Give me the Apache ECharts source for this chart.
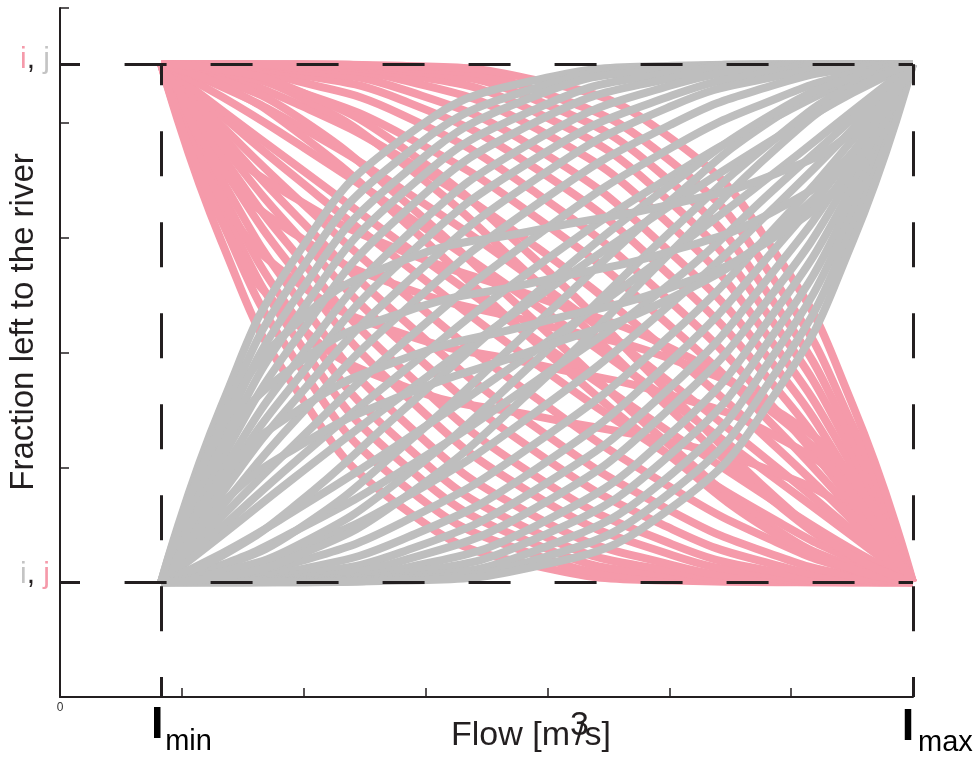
<!DOCTYPE html>
<html><head><meta charset="utf-8">
<script src="https://cdn.jsdelivr.net/npm/echarts@6/dist/echarts.min.js"></script>
<style>html,body{margin:0;padding:0;background:#fff}#c{width:977px;height:760px}</style>
</head><body><div id="c"></div>
<script>
// ---- values ----
const FLOW_MIN = 0.83;          // I_min on the flow axis
const FLOW_MAX = 7;             // I_max on the flow axis
const LEVEL_LOW = 1;            // lower level (i, j)
const LEVEL_HIGH = 5.51;        // upper level (i, j)
const BOX_LEFT = 0.53;          // where the horizontal dashed lines start
const curveSteps = [0, 0.08, 0.18, 0.32, 0.5, 0.68, 0.82, 0.92, 1];

// grey: from (I_min, lower level) to (I_max, upper level)
const greyCurves = [
  [0, .34, .63, .855, .97, .997, 1, 1, 1],
  [0, .31, .59, .82, .955, .994, 1, 1, 1],
  [0, .285, .55, .785, .94, .99, .999, 1, 1],
  [0, .26, .51, .75, .915, .983, .998, 1, 1],
  [0, .235, .47, .71, .89, .974, .996, 1, 1],
  [0, .21, .425, .66, .855, .96, .992, .999, 1],
  [0, .19, .39, .62, .82, .94, .986, .998, 1],
  [0, .17, .355, .57, .78, .92, .977, .996, 1],
  [0, .145, .315, .52, .73, .885, .962, .992, 1],
  [0, .125, .27, .46, .67, .84, .935, .982, 1],
  [0, .105, .235, .405, .61, .785, .90, .967, 1],
  [0, .09, .205, .36, .55, .73, .86, .945, 1],
  [0, .055, .14, .27, .45, .64, .795, .91, 1],
  [0, .033, .10, .215, .39, .58, .765, .895, 1],
  [0, .018, .064, .16, .33, .54, .73, .875, 1],
  [0, .008, .038, .115, .27, .48, .69, .855, 1],
  [0, .004, .023, .082, .22, .43, .65, .83, 1],
  [0, .002, .014, .058, .18, .38, .61, .81, 1],
  [0, .001, .008, .041, .145, .34, .57, .79, 1],
  [0, 0, .004, .026, .11, .29, .53, .765, 1],
  [0, 0, .002, .017, .085, .25, .49, .74, 1],
  [0, 0, .001, .01, .062, .21, .45, .715, 1],
  [0, 0, 0, .006, .044, .176, .41, .687, 1],
  [0, 0, 0, .003, .031, .145, .371, .659, 1],
  [0, .03, .10, .26, .50, .74, .90, .97, 1],
  [0, .05, .15, .33, .56, .77, .91, .975, 1],
  [0, .02, .07, .20, .43, .68, .86, .96, 1],
  [0, .01, .05, .16, .38, .64, .84, .95, 1],
  [0, .20, .33, .43, .50, .57, .67, .80, 1],
  [0, .26, .42, .52, .58, .64, .72, .83, 1],
  [0, .15, .26, .36, .45, .55, .68, .83, 1],
  [0, .30, .50, .62, .68, .73, .79, .87, 1]
];

// pink: from (I_min, upper level) to (I_max, lower level)
const pinkCurves = [
  [1, .659, .371, .145, .031, .003, 0, 0, 0],
  [1, .699, .426, .19, .051, .007, .001, 0, 0],
  [1, .728, .47, .231, .072, .013, .002, 0, 0],
  [1, .753, .509, .27, .095, .021, .003, 0, 0],
  [1, .779, .551, .314, .125, .033, .006, .001, 0],
  [1, .805, .597, .367, .165, .052, .012, .001, 0],
  [1, .825, .633, .412, .203, .073, .019, .003, 0],
  [1, .846, .672, .462, .25, .102, .032, .006, 0],
  [1, .864, .707, .509, .297, .136, .05, .012, 0],
  [1, .882, .742, .561, .354, .181, .076, .023, 0],
  [1, .901, .78, .618, .42, .241, .117, .043, 0],
  [1, .912, .804, .654, .467, .286, .152, .062, 0],
  [1, .938, .848, .714, .533, .346, .196, .088, 0],
  [1, .957, .883, .759, .58, .382, .22, .099, 0],
  [1, .977, .924, .819, .646, .439, .258, .118, 0],
  [1, .988, .949, .865, .703, .491, .294, .136, 0],
  [1, .994, .968, .903, .75, .538, .329, .154, 0],
  [1, .997, .981, .931, .797, .588, .371, .175, 0],
  [1, .999, .989, .952, .836, .633, .41, .195, 0],
  [1, 1, .994, .97, .875, .686, .449, .221, 0],
  [1, 1, .997, .981, .906, .73, .49, .247, 0],
  [1, 1, .999, .988, .93, .77, .53, .272, 0],
  [1, 1, 1, .993, .949, .81, .574, .301, 0],
  [1, 1, 1, .997, .969, .855, .629, .341, 0],
  [1, .97, .90, .74, .50, .26, .10, .03, 0],
  [1, .96, .87, .70, .46, .24, .09, .025, 0],
  [1, .985, .94, .81, .58, .33, .15, .05, 0],
  [1, .99, .95, .84, .62, .36, .16, .05, 0],
  [1, .80, .67, .57, .50, .43, .33, .20, 0],
  [1, .74, .58, .48, .42, .36, .28, .17, 0],
  [1, .85, .74, .64, .55, .45, .32, .17, 0],
  [1, .70, .50, .38, .32, .27, .21, .13, 0]
];

// ---- styles ----
const PINK = '#F59AAA';
const GREY = '#BEBEBE';
const GREY_TXT = '#C4C4C4';
const INK = '#231F20';
const FONT = '"Liberation Sans", Arial, sans-serif';

function toSeries(curves, color, z) {
  return curves.map(c => ({
    type: 'line',
    data: curveSteps.map((t, i) => [FLOW_MIN + t * (FLOW_MAX - FLOW_MIN),
                                    LEVEL_LOW + c[i] * (LEVEL_HIGH - LEVEL_LOW)]),
    smooth: 0.5,
    showSymbol: false,
    symbol: 'none',
    silent: true,
    z: z,
    lineStyle: { color: color, width: 8, cap: 'butt', join: 'round' }
  }));
}

const dashH = { color: INK, width: 3, type: [42, 44], cap: 'butt' };
const dashV = { color: INK, width: 3, type: [45, 46], dashOffset: 24, cap: 'butt' };

const lvlRich = {
  p: { color: PINK, fontSize: 30, fontFamily: FONT },
  k: { color: INK, fontSize: 30, fontFamily: FONT },
  g: { color: GREY_TXT, fontSize: 30, fontFamily: FONT }
};

const overlay = {
  type: 'line',
  data: [],
  z: 10,
  clip: false,
  silent: true,
  markLine: {
    silent: true,
    symbol: ['none', 'none'],
    label: { show: false },
    animation: false,
    data: [
      [{ coord: [BOX_LEFT, LEVEL_HIGH], lineStyle: dashH }, { coord: [FLOW_MAX, LEVEL_HIGH] }],
      [{ coord: [BOX_LEFT, LEVEL_LOW], lineStyle: dashH }, { coord: [FLOW_MAX, LEVEL_LOW] }],
      [{ coord: [FLOW_MIN, LEVEL_HIGH], lineStyle: dashV }, { coord: [FLOW_MIN, 0] }],
      [{ coord: [FLOW_MAX, LEVEL_HIGH], lineStyle: dashV }, { coord: [FLOW_MAX, 0] }]
    ]
  },
  markPoint: {
    silent: true,
    symbol: 'circle',
    symbolSize: 1,
    itemStyle: { color: 'rgba(0,0,0,0)' },
    animation: false,
    data: [
      { coord: [FLOW_MIN, 0], label: { show: true, formatter: 'I', offset: [-4, 29], fontSize: 45, fontWeight: 'bold', color: '#000', fontFamily: FONT, align: 'center', verticalAlign: 'middle' } },
      { coord: [FLOW_MIN, 0], label: { show: true, formatter: 'min', offset: [4, 45], fontSize: 29, color: '#000', fontFamily: FONT, align: 'left', verticalAlign: 'middle' } },
      { coord: [FLOW_MAX, 0], label: { show: true, formatter: 'I', offset: [-5, 31], fontSize: 45, fontWeight: 'bold', color: '#000', fontFamily: FONT, align: 'center', verticalAlign: 'middle' } },
      { coord: [FLOW_MAX, 0], label: { show: true, formatter: 'max', offset: [5, 46], fontSize: 29, color: '#000', fontFamily: FONT, align: 'left', verticalAlign: 'middle' } },
      { coord: [0, LEVEL_HIGH], label: { show: true, formatter: '{p|i}{k|,} {g|j}', offset: [-10, -5], fontSize: 30, fontFamily: FONT, align: 'right', verticalAlign: 'middle', rich: lvlRich } },
      { coord: [0, LEVEL_LOW], label: { show: true, formatter: '{g|i}{k|,} {p|j}', offset: [-10, -7], fontSize: 30, fontFamily: FONT, align: 'right', verticalAlign: 'middle', rich: lvlRich } }
    ]
  }
};

// x-axis title pieces (the superscript 3 sits over the slash, as in the original)
const ctx = document.createElement('canvas').getContext('2d');
ctx.font = '34px "Liberation Sans"';
const w1 = ctx.measureText('Flow [m').width;
const titleX = 451, titleY = 736;

const option = {
  animation: false,
  backgroundColor: '#fff',
  grid: { left: 60, right: 64, top: 8, bottom: 63, containLabel: false },
  xAxis: [
    { type: 'value', min: 0, max: 7, interval: 1,
      axisLine: { onZero: false, lineStyle: { color: INK, width: 2 } },
      axisTick: { inside: true, length: 9, lineStyle: { color: INK, width: 1.5 } },
      axisLabel: { formatter: v => (v === 0 ? '0' : ''), fontSize: 12, color: '#333', margin: 5, fontFamily: FONT },
      splitLine: { show: false } },
    { type: 'value', min: 0, max: 7, position: 'bottom', offset: 0,
      axisLine: { show: false },
      axisTick: { show: true, inside: true, length: 20, customValues: [FLOW_MIN, FLOW_MAX], lineStyle: { color: INK, width: 3 } },
      axisLabel: { show: false }, splitLine: { show: false } }
  ],
  yAxis: [
    { type: 'value', min: 0, max: 6, interval: 1,
      axisLine: { show: true, onZero: false, lineStyle: { color: INK, width: 2 } },
      axisTick: { show: true, inside: true, length: 9, lineStyle: { color: INK, width: 1.5 } },
      axisLabel: { show: false }, splitLine: { show: false } },
    { type: 'value', min: 0, max: 6, position: 'left', offset: 0,
      axisLine: { show: false },
      axisTick: { show: true, inside: true, length: 20, customValues: [LEVEL_LOW, LEVEL_HIGH], lineStyle: { color: INK, width: 3 } },
      axisLabel: { show: false }, splitLine: { show: false } }
  ],
  graphic: [
    { type: 'text', x: 24, y: 322, rotation: Math.PI / 2, z: 100,
      style: { text: 'Fraction left to the river', font: '33px "Liberation Sans"', fill: INK,
               textAlign: 'center', textVerticalAlign: 'middle', align: 'center', verticalAlign: 'middle' } },
    { type: 'text', x: titleX, y: titleY, z: 100,
      style: { text: 'Flow [m', font: '34px "Liberation Sans"', fill: INK,
               textAlign: 'left', textVerticalAlign: 'middle', align: 'left', verticalAlign: 'middle' } },
    { type: 'text', x: titleX + w1, y: titleY - 10, z: 100,
      style: { text: '3', font: '34px "Liberation Sans"', fill: INK,
               textAlign: 'left', textVerticalAlign: 'middle', align: 'left', verticalAlign: 'middle' } },
    { type: 'text', x: titleX + w1 + 5, y: titleY, z: 100,
      style: { text: '/s]', font: '34px "Liberation Sans"', fill: INK,
               textAlign: 'left', textVerticalAlign: 'middle', align: 'left', verticalAlign: 'middle' } }
  ],
  series: [].concat(toSeries(pinkCurves, PINK, 2), toSeries(greyCurves, GREY, 3), [overlay])
};

const chart = echarts.init(document.getElementById('c'), null, { renderer: 'canvas' });
chart.setOption(option);
</script>
</body></html>
